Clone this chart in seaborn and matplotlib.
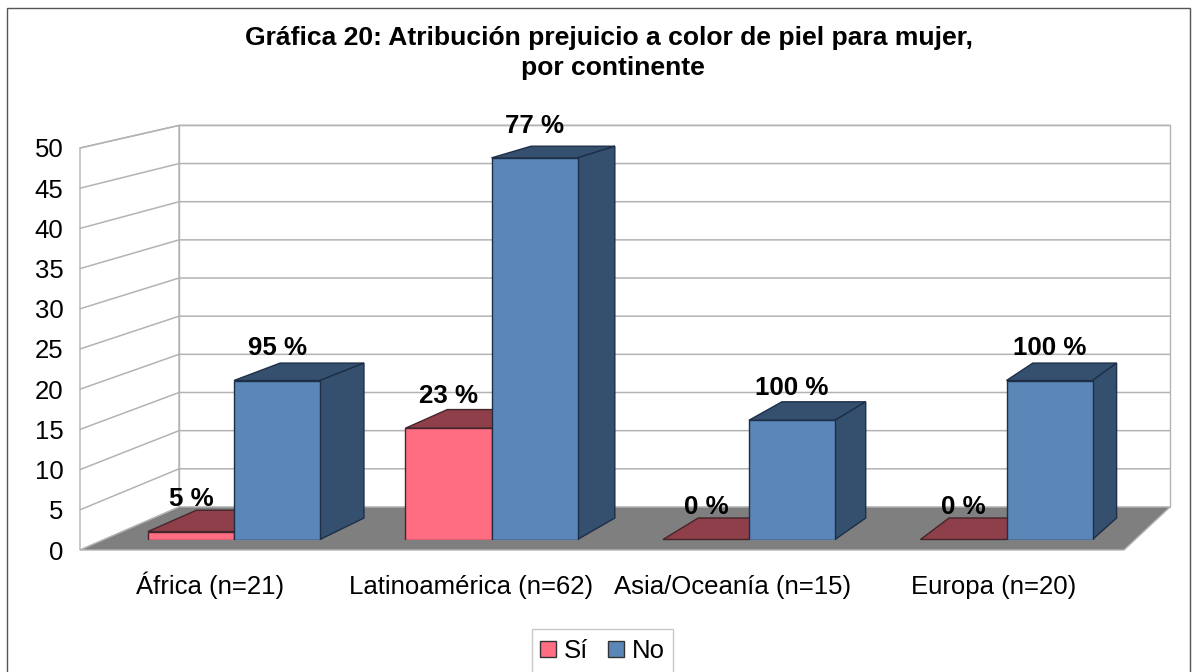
# Grafica 20: 3D-look bars, prejuicio por color de piel, mujer, por continente

# Import libraries
import matplotlib
matplotlib.use("Agg")
import matplotlib.pyplot as plt
from matplotlib.patches import Polygon, Rectangle
from matplotlib.transforms import IdentityTransform
import numpy as np
import pandas as pd
import seaborn as sns

# Data
continentes = ["África (n=21)", "Latinoamérica (n=62)", "Asia/Oceanía (n=15)", "Europa (n=20)"]
valores_si = [1, 14, 0, 0]
valores_no = [20, 48, 15, 20]
etiquetas_si = ["5 %", "23 %", "0 %", "0 %"]
etiquetas_no = ["95 %", "77 %", "100 %", "100 %"]
ticks_y = [0, 5, 10, 15, 20, 25, 30, 35, 40, 45, 50]
titulo = "Gráfica 20: Atribución prejuicio a color de piel para mujer, \npor continente"

W, H = 1197, 672
COL_SI, COL_NO = "#ff6d82", "#5b87b8"
TOP_SI, TOP_NO = "#8f3f4a", "#35506e"
EDGE_SI, EDGE_NO = "#43262c", "#1d2f47"
GRID = "#b3b3b3"
# vanishing point of the fake perspective, display pixels
VP = np.array([2030.0, H + 297.0])
S_WALL, S_BAR = 0.0508, 0.0257

sns.set_theme(style="white")
plt.rcParams["font.family"] = ["Liberation Sans", "DejaVu Sans"]
fig = plt.figure(figsize=(W / 100, H / 100), dpi=100)


def rect_px(left, top, right, bottom):
    return [left / W, 1 - bottom / H, (right - left) / W, (bottom - top) / H]


def back(p, s):
    p = np.asarray(p, dtype=float)
    return p + s * (VP - p)


def poly(axis, pts, face, edge, lw=1.0, z=2):
    axis.add_patch(Polygon(pts, closed=True, facecolor=face, edgecolor=edge, linewidth=lw,
                           transform=IdentityTransform(), clip_on=False, zorder=z))


# outer frame
fig.add_artist(Rectangle((6.5 / W, -0.02), 1183.5 / W, 1 - 8 / H + 0.02, transform=fig.transFigure,
                         fill=False, edgecolor="#555555", linewidth=1.0))
fig.text(613 / W, 1 - 53 / H, titulo, ha="center", va="center", fontsize=19.05, fontweight="bold",
         color="black", linespacing=1.3)

# Front plane: axis ticks, walls and floor
ax_front = fig.add_axes(rect_px(80, 148, 1124, 550))
ax_front.set_xlim(0, 4)
ax_front.set_ylim(0, 50)
ax_front.patch.set_visible(False)
for s in ax_front.spines.values():
    s.set_visible(False)
ax_front.set_xticks(np.arange(4) + 0.5, continentes)
ax_front.set_yticks(ticks_y, [str(t) for t in ticks_y])
ax_front.tick_params(axis="y", length=0, pad=12, labelsize=18.5, labelcolor="black")
ax_front.tick_params(axis="x", length=0, pad=31.5, labelsize=18.5, labelcolor="black")
for lab in ax_front.get_xticklabels():
    lab.set_va("baseline")

tr = ax_front.transData
fl, fr = tr.transform((0, 0)), tr.transform((4, 0))
tl, tr_top = tr.transform((0, 50)), tr.transform((4, 50))
poly(ax_front, [fl, tl, back(tl, S_WALL), back(fl, S_WALL)], "white", GRID)
poly(ax_front, [back(fl, S_WALL), back(tl, S_WALL), back(tr_top, S_WALL), back(fr, S_WALL)], "white", GRID)
for t in ticks_y[1:]:
    a = tr.transform((0, t))
    b = back(a, S_WALL)
    c = back(tr.transform((4, t)), S_WALL)
    ax_front.plot([a[0], b[0], c[0]], [a[1], b[1], c[1]], color=GRID, lw=1.1,
                  transform=IdentityTransform(), clip_on=False, zorder=2.1)
poly(ax_front, [fl, fr, back(fr, S_WALL), back(fl, S_WALL)], "#7f7f7f", GRID, z=2.2)

# Bars through seaborn, on their own plane a bit behind the front one
df = pd.DataFrame({
    "continente": continentes * 2,
    "valor": valores_si + valores_no,
    "serie": ["Sí"] * 4 + ["No"] * 4,
})
ax = fig.add_axes(rect_px(80, 142, 1124, 539.5))
sns.barplot(data=df, x="continente", y="valor", hue="serie", palette=[COL_SI, COL_NO], width=0.668,
            gap=0, saturation=1, linewidth=1.0, edgecolor="#333333", zorder=3, ax=ax)
ax.set_xlim((80 - 234) / 257.5, (1124 - 234) / 257.5)
ax.set_ylim(0, 50)
ax.axis("off")

tb = ax.transData
bars_si, bars_no = ax.containers[0], ax.containers[1]
for bars, top_col, edge, textos in [(bars_si, TOP_SI, EDGE_SI, etiquetas_si), (bars_no, TOP_NO, EDGE_NO, etiquetas_no)]:
    for bar, lab in zip(bars, textos):
        bar.set_edgecolor(edge)
        x0, x1 = bar.get_x(), bar.get_x() + bar.get_width()
        h = bar.get_height()
        p_tl, p_tr = tb.transform((x0, h)), tb.transform((x1, h))
        p_br = tb.transform((x1, 0))
        poly(ax, [p_tl, p_tr, back(p_tr, S_BAR), back(p_tl, S_BAR)], top_col, edge)
        if bars is bars_no:
            poly(ax, [p_br, p_tr, back(p_tr, S_BAR), back(p_br, S_BAR)], top_col, edge)
        ax.annotate(lab, ((x0 + x1) / 2, h), xytext=(0, 23.3), textcoords="offset points", ha="center",
                    va="center", fontsize=18.6, fontweight="bold", color="black", zorder=6,
                    annotation_clip=False)

# Legend, its box runs off the bottom of the picture so it gets its own frame
fig.add_artist(Rectangle((532 / W, -0.02), 141 / W, 1 - 629 / H + 0.02, transform=fig.transFigure,
                         fill=False, edgecolor="#c8c8c8", linewidth=1.0))
handles, labels = ax.get_legend_handles_labels()
ax.legend(handles, labels, ncol=2, loc="center", bbox_to_anchor=(602.5 / W, 1 - 651 / H),
          bbox_transform=fig.transFigure, fontsize=18.5, frameon=False,
          handlelength=0.62, handleheight=0.62, handletextpad=0.3, columnspacing=0.8,
          borderpad=0, borderaxespad=0, labelcolor="black")

plt.savefig("out.png", dpi=100)
plt.close()
